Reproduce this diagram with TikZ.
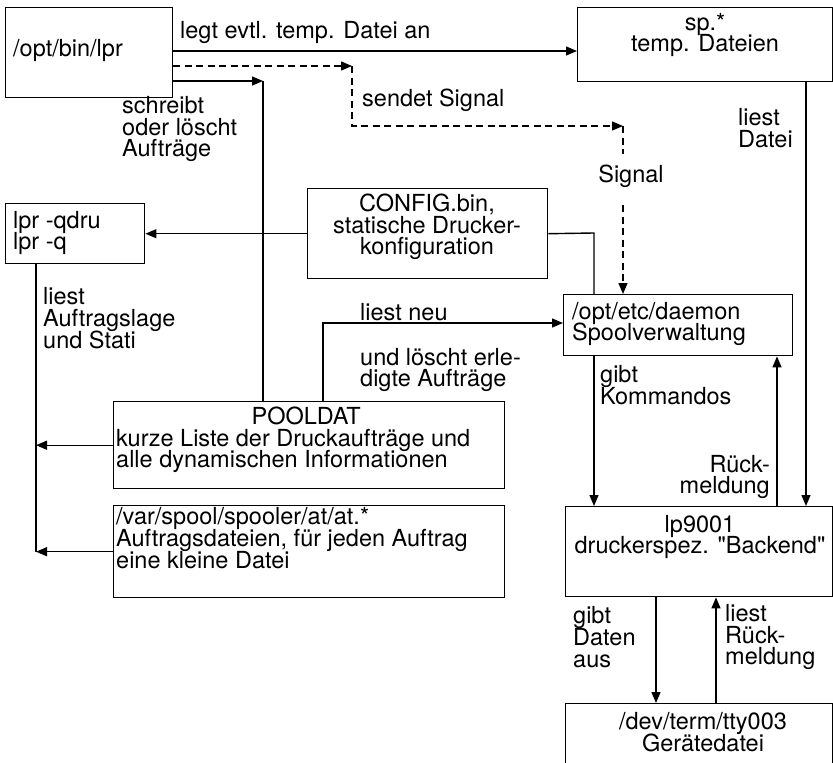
\documentclass[tikz,border=0pt]{standalone}
\usepackage{fontspec}
\setmainfont{TeX Gyre Heros}[Ligatures=TeXOff]
\usetikzlibrary{arrows.meta}
\lineskiplimit=-100pt
\begin{document}
\begin{tikzpicture}[x=1pt,y=-1pt,
  every node/.style={font=\fontsize{23.5}{21.7}\selectfont},
  box/.style={draw, line width=1.4pt, inner sep=0pt, anchor=north west},
  lbl/.style={inner sep=0pt, align=left, anchor=west},
  ctr/.style={inner sep=0pt, align=center},
  conn/.style={line width=1.4pt},
  arr/.style={line width=1.4pt, -{Triangle[length=11pt,width=9pt]}},
  sigline/.style={dash pattern=on 7pt off 4.5pt},
]
\useasboundingbox (0,0) rectangle (833,763);

% boxes
\node[box, minimum width=167, minimum height=90] (lpr) at (5,7) {};
\node[lbl] (lprT) at (13,50) {/opt/bin/lpr};
\node[box, minimum width=255, minimum height=74] (sp) at (577,7) {};
\node[ctr] (spT) at (705,35) {sp.*\\temp. Dateien};
\node[box, minimum width=139, minimum height=60] (qdru) at (5,203) {};
\node[lbl] (qdruT) at (13,233) {lpr -qdru\\lpr -q};
\node[box, minimum width=240, minimum height=90] (cfg) at (307,188) {};
\node[ctr] (cfgT) at (427,227) {CONFIG.bin,\\statische Drucker-\\konfiguration};
\node[box, minimum width=229, minimum height=61] (dmn) at (563,294) {};
\node[lbl] (dmnT) at (572,324) {/opt/etc/daemon\\Spoolverwaltung};
\node[box, minimum width=391, minimum height=87] (pool) at (113,401) {};
\node[lbl] (poolT) at (116,440) {\makebox[380pt]{POOLDAT}\\kurze Liste der Druckaufträge und\\alle dynamischen Informationen};
\node[box, minimum width=391, minimum height=92] (at) at (113,505) {};
\node[lbl] (atT) at (116,538) {/var/spool/spooler/at/at.*\\Auftragsdateien, für jeden Auftrag\\eine kleine Datei};
\node[box, minimum width=267, minimum height=90] (lp) at (565,506) {};
\node[ctr] (lpT) at (700,537) {lp9001\\druckerspez. "Backend"};
\node[box, minimum width=267, minimum height=80] (tty) at (565,703) {};
\node[ctr] (ttyT) at (703,732) {/dev/term/tty003\\Gerätedatei};

% connector labels
\node[lbl] (legtL) at (180,32) {legt evtl. temp. Datei an};
\node[lbl] (sendL) at (362,100) {sendet Signal};
\node[ctr] (sigL) at (631,176) {Signal};
\node[lbl] (schrL) at (122,129) {schreibt\\oder löscht\\Aufträge};
\node[lbl] (dateiL) at (738,128) {liest\\Datei};
\node[lbl] (lageL) at (43,318) {liest\\Auftragslage\\und Stati};
\node[lbl] (neuL) at (360,312) {liest neu};
\node[lbl] (erlL) at (360,370) {und löscht erle-\\digte Aufträge};
\node[lbl] (kmdL) at (600,385) {gibt\\Kommandos};
\node[lbl, align=right, anchor=east] (rueckL) at (770,477) {Rück-\\meldung};
\node[lbl] (datenL) at (573,637) {gibt\\Daten\\aus};
\node[lbl] (rdevL) at (725,637) {liest\\Rück-\\meldung};

% bend points and connector columns
\coordinate (tmpY) at (0,51);
\coordinate (sigA) at (352,66);
\coordinate (sigB) at (352,126);
\coordinate (sigC) at (623,126);
\coordinate (sigD) at (623,154);
\coordinate (sigE) at (623,205);
\coordinate (wr) at (263,81);
\coordinate (cfgB) at (594,233);
\coordinate (neu) at (323,323);
\coordinate (rueck) at (777,0);
\coordinate (datei) at (806,0);
\coordinate (daten) at (656,0);
\coordinate (rdev) at (716,0);
\coordinate (bus) at (36,0);

% lpr -> temporary files
\draw[arr] (lpr.east |- tmpY) -- (sp.west |- tmpY);
% signal path to the daemon
\draw[arr, sigline] (lpr.east |- sigA) -- (sigA);
\draw[arr, sigline] (sigA) -- (sigB) -- (sigC);
\draw[conn, sigline] (sigC) -- (sigD);
\draw[arr, sigline] (sigE) -- (dmn.north -| sigE);
% lpr writes jobs into POOLDAT
\draw[arr] (lpr.east |- wr) -- (wr);
\draw[conn] (wr) -- (pool.north -| wr);
% configuration
\draw[arr] (cfg.west) -- (qdru.east);
\draw[conn] (cfg.east) -- (cfgB) -- (dmn.north -| cfgB);
% POOLDAT re-read by the daemon
\draw[arr] (pool.north -| neu) -- (neu) -- (dmn.west |- neu);
% daemon <-> backend
\draw[arr] (dmn.south -| cfgB) -- (lp.north -| cfgB);
\draw[arr] (lp.north -| rueck) -- (dmn.south -| rueck);
\draw[arr] (sp.south -| datei) -- (lp.north -| datei);
% backend <-> device file
\draw[arr] (lp.south -| daten) -- (tty.north -| daten);
\draw[arr] (tty.north -| rdev) -- (lp.south -| rdev);
% lpr -q reads the spool state
\draw[conn] (qdru.south -| bus) -- (at.west -| bus);
\draw[arr] (pool.west) -- (pool.west -| bus);
\draw[arr] (at.west) -- (at.west -| bus);
\end{tikzpicture}
\end{document}
